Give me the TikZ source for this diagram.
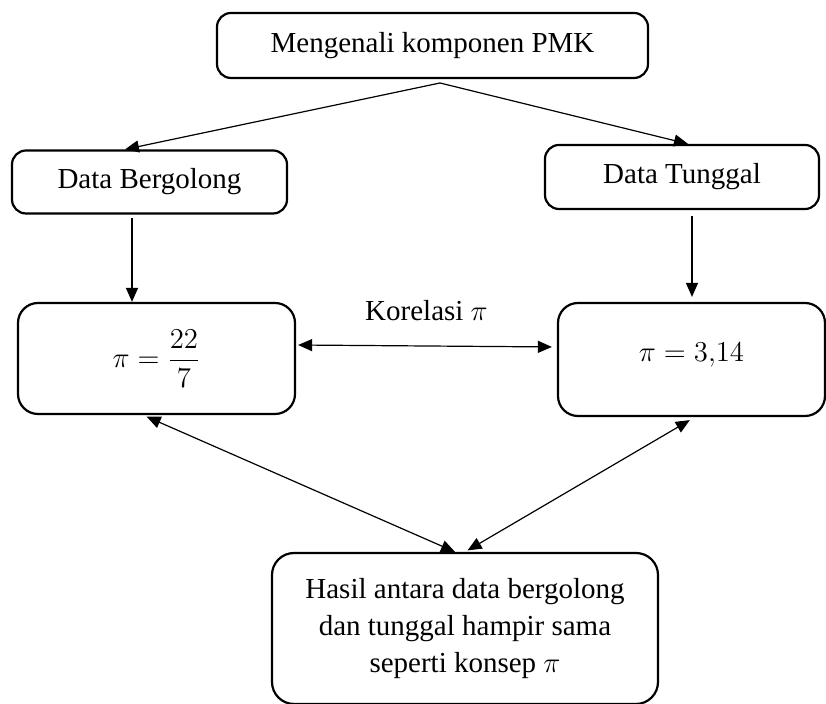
\documentclass[tikz,border=0pt]{standalone}
\usepackage{amsmath}
\usepackage{fontspec}
\setmainfont{Liberation Serif}
\usetikzlibrary{arrows.meta}
\tikzset{
  kotak/.style={draw, line width=1.1pt, rounded corners=7pt, inner sep=0pt, align=center, font=\fontsize{14.5}{18.5}\selectfont},
  panah/.style={-{Triangle[length=7pt,width=6pt]}, line width=0.6pt},
  panahdua/.style={{Triangle[length=7pt,width=6pt]}-{Triangle[length=7pt,width=6pt]}, line width=0.6pt},
}

\begin{document}
\begin{tikzpicture}[x=0.5pt,y=-0.5pt]
\useasboundingbox (0,0) rectangle (826,704);
% kotak
\node[kotak, minimum width=215.5pt, minimum height=32.5pt] (pmk) at (432.5,45.5) {Mengenali komponen PMK};
\node[kotak, minimum width=137.5pt, minimum height=31.5pt] (golong) at (149.5,182) {Data Bergolong};
\node[kotak, minimum width=137pt, minimum height=32pt] (tunggal) at (682,177) {Data Tunggal};
\node[kotak, minimum width=138.5pt, minimum height=55.5pt, rounded corners=10pt] (pecahan) at (156.5,358.5) {$\pi = \dfrac{22}{7}$};
\node[kotak, minimum width=133.5pt, minimum height=56.5pt, rounded corners=10pt, text depth=7.5pt] (desimal) at (691.5,359.5) {$\pi = 3{,}14$};
\node[kotak, minimum width=193pt, minimum height=75.5pt, rounded corners=11pt] (hasil) at (465,628.5) {Hasil antara data bergolong\\dan tunggal hampir sama\\seperti konsep $\pi$};
% panah
\coordinate (cabang) at (440,83);
\draw[panah] (cabang) -- ([xshift=-12.25pt]golong.north);
\draw[panah] (cabang) -- ([xshift=3pt]tunggal.north);
\draw[panah, shorten <=1.5pt] ([xshift=-8.75pt]golong.south) -- ([xshift=-12.25pt]pecahan.north);
\draw[panah, shorten <=3pt, shorten >=2.5pt] ([xshift=5pt]tunggal.south) -- ([xshift=0.25pt]desimal.north);
\draw[panahdua, shorten <=1pt, shorten >=2.5pt] ([yshift=6.75pt]pecahan.east) -- ([yshift=6.25pt]desimal.west)
  node[midway, above=9pt, font=\fontsize{14.5}{18.5}\selectfont] (korelasi) {Korelasi $\pi$};
\draw[panahdua, shorten <=2pt] ([xshift=-6.75pt]pecahan.south) -- ([xshift=-5pt]hasil.north);
\draw[panahdua, shorten <=3pt, shorten >=1.5pt] ([xshift=1.75pt]desimal.south) -- (hasil.north);
\end{tikzpicture}
\end{document}
